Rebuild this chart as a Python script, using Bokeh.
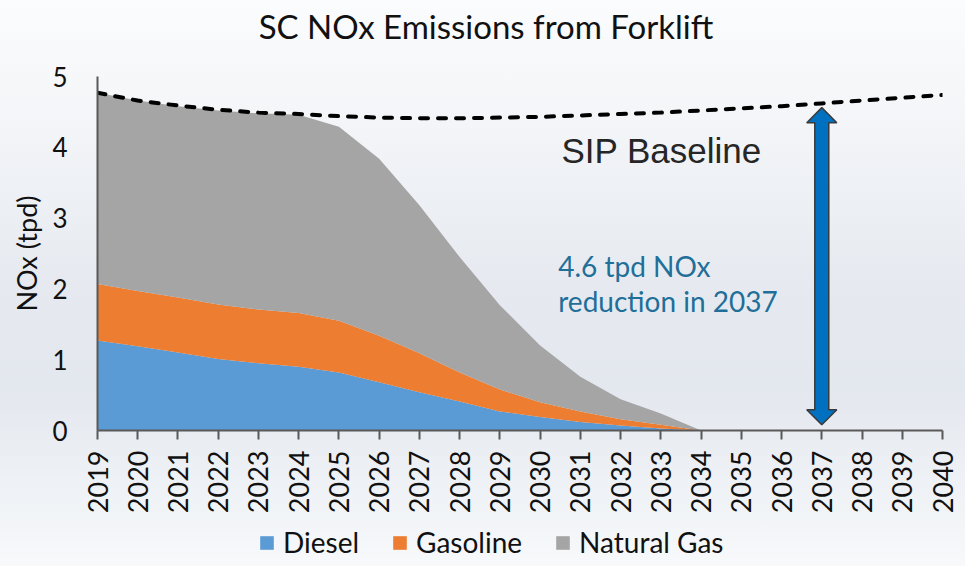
import math
from bokeh.plotting import figure
from bokeh.layouts import column
from bokeh.models import (ColumnDataSource, Range1d, Label, FixedTicker,
                          Legend, LegendItem)
from bokeh.embed import file_html
from bokeh.resources import INLINE

# ---- data ----
years = list(range(2019, 2041))
diesel = [1.27, 1.19, 1.10, 1.01, 0.95, 0.90, 0.82, 0.68, 0.54, 0.41, 0.27,
          0.19, 0.12, 0.07, 0.03, 0.0, 0, 0, 0, 0, 0, 0]
gasoline = [0.80, 0.78, 0.78, 0.77, 0.76, 0.76, 0.73, 0.66, 0.55, 0.41, 0.31,
            0.21, 0.15, 0.09, 0.05, 0.0, 0, 0, 0, 0, 0, 0]
natural_gas = [2.70, 2.69, 2.70, 2.74, 2.77, 2.80, 2.74, 2.50, 2.09, 1.63, 1.19,
               0.80, 0.49, 0.28, 0.16, 0.0, 0, 0, 0, 0, 0, 0]
sip_baseline = [4.77, 4.66, 4.59, 4.53, 4.49, 4.47, 4.44, 4.42, 4.41, 4.41, 4.42,
                4.43, 4.45, 4.47, 4.49, 4.52, 4.55, 4.58, 4.62, 4.66, 4.70, 4.74]
series_names = ["Diesel", "Gasoline", "Natural Gas"]
series_keys = ["diesel", "gasoline", "natural_gas"]
series_colors = ["#5B9BD5", "#ED7D31", "#A5A5A5"]
y_ticks = [0, 1, 2, 3, 4, 5]
arrow_year = 2037
arrow_bottom = 0.08
arrow_top = 4.56
title_text = "SC NOx Emissions from Forklift"

FONT = "Lato"
W = 965
FRAME_L, FRAME_R = 97, 942   # frame edges in page pixels (columns align frames)


def bare(fig):
    fig.axis.visible = False
    fig.grid.visible = False
    fig.outline_line_color = None
    fig.background_fill_alpha = 0
    fig.border_fill_alpha = 0
    fig.min_border = 0
    return fig


src = ColumnDataSource(dict(year=years, diesel=diesel, gasoline=gasoline,
                            natural_gas=natural_gas, sip=sip_baseline))

# ---- title strip (x range in page pixels) ----
tf = bare(figure(width=W, height=50, output_backend="svg", toolbar_location=None,
                 x_range=Range1d(FRAME_L, FRAME_R), y_range=Range1d(50, 0)))
tf.add_layout(Label(x=485.5, y=25, text=title_text, text_align="center",
                    text_baseline="middle", text_font=FONT,
                    text_font_size="33px", text_color="#111111"))

# ---- main chart ----
p = figure(width=W, height=470, output_backend="svg", toolbar_location=None,
           x_range=Range1d(2019, 2040), y_range=Range1d(0, 5),
           min_border_left=FRAME_L, min_border_right=W - FRAME_R,
           min_border_top=26, min_border_bottom=90)
p.background_fill_alpha = 0
p.border_fill_alpha = 0
p.outline_line_color = None
p.grid.visible = False

p.varea_stack(series_keys, x="year", source=src, color=series_colors)

p.line("year", "sip", source=src, line_color="black", line_width=4,
       line_dash="8 10", line_cap="round")

# double-headed arrow at arrow_year
sh = 0.174  # shaft half width (years)
hh = 0.373  # head half width (years)
hl = 0.212  # head length (tpd)
ax = arrow_year
xs = [ax, ax + hh, ax + sh, ax + sh, ax + hh, ax, ax - hh, ax - sh, ax - sh, ax - hh]
ys = [arrow_top, arrow_top - hl, arrow_top - hl, arrow_bottom + hl, arrow_bottom + hl,
      arrow_bottom, arrow_bottom + hl, arrow_bottom + hl, arrow_top - hl, arrow_top - hl]
p.patch(xs, ys, fill_color="#0070C0", line_color="#3A3A3A", line_width=1.5)

xa = p.xaxis[0]
xa.ticker = FixedTicker(ticks=years)
xa.major_label_orientation = math.pi / 2
xa.major_tick_out = 9
xa.major_tick_in = 0
xa.minor_tick_line_color = None
xa.axis_line_color = "#595959"
xa.axis_line_width = 2
xa.major_tick_line_color = "#595959"
xa.major_tick_line_width = 2
xa.major_label_standoff = 11
xa.major_label_text_font = FONT
xa.major_label_text_font_size = "27px"
xa.major_label_text_color = "#111111"

ya = p.yaxis[0]
ya.ticker = FixedTicker(ticks=y_ticks)
ya.major_tick_out = 0
ya.major_tick_in = 0
ya.minor_tick_line_color = None
ya.axis_line_color = "#595959"
ya.axis_line_width = 2
ya.major_label_standoff = 30
ya.major_label_text_font = FONT
ya.major_label_text_font_size = "26px"
ya.major_label_text_color = "#111111"
ya.axis_label = "NOx (tpd)"
ya.axis_label_text_font = FONT
ya.axis_label_text_font_size = "27px"
ya.axis_label_text_font_style = "normal"
ya.axis_label_text_color = "#111111"
ya.axis_label_standoff = 6

p.add_layout(Label(x=2030.53, y=3.95, text="SIP Baseline", text_align="left",
                   text_baseline="middle", text_font="Liberation Sans",
                   text_font_size="35px", text_color="#262626"))
p.add_layout(Label(x=2030.45, y=2.32, text="4.6 tpd NOx", text_align="left",
                   text_baseline="middle", text_font=FONT,
                   text_font_size="28px", text_color="#1F6F99"))
p.add_layout(Label(x=2030.45, y=1.83, text="reduction in 2037", text_align="left",
                   text_baseline="middle", text_font=FONT,
                   text_font_size="28px", text_color="#1F6F99"))

# ---- legend strip: swatch renderers use the same data, kept out of view ----
lf = bare(figure(width=W, height=46, output_backend="svg", toolbar_location=None,
                 x_range=Range1d(2019, 2040), y_range=Range1d(100, 101)))
swatches = lf.varea_stack(series_keys, x="year", source=src, color=series_colors)
lg = Legend(items=[LegendItem(label=n, renderers=[r])
                   for n, r in zip(series_names, swatches)])
lg.orientation = "horizontal"
lg.location = (258 - FRAME_L, 7)
lg.background_fill_alpha = 0
lg.border_line_color = None
lg.padding = 0
lg.margin = 0
lg.spacing = 32
lg.glyph_width = 17
lg.glyph_height = 17
lg.label_standoff = 8
lg.label_height = 17
lg.label_text_font = FONT
lg.label_text_font_size = "28px"
lg.label_text_color = "#111111"
lf.add_layout(lg, "center")

layout = column(tf, p, lf, spacing=0,
                styles={"background": "linear-gradient(to bottom, #fbfcfd 0%, #f3f5f8 22%, #e6eaf0 50%, #e3e7ee 68%, #eef1f5 85%, #f7f9fb 100%)"})

open("out.html", "w").write(file_html(layout, INLINE))
